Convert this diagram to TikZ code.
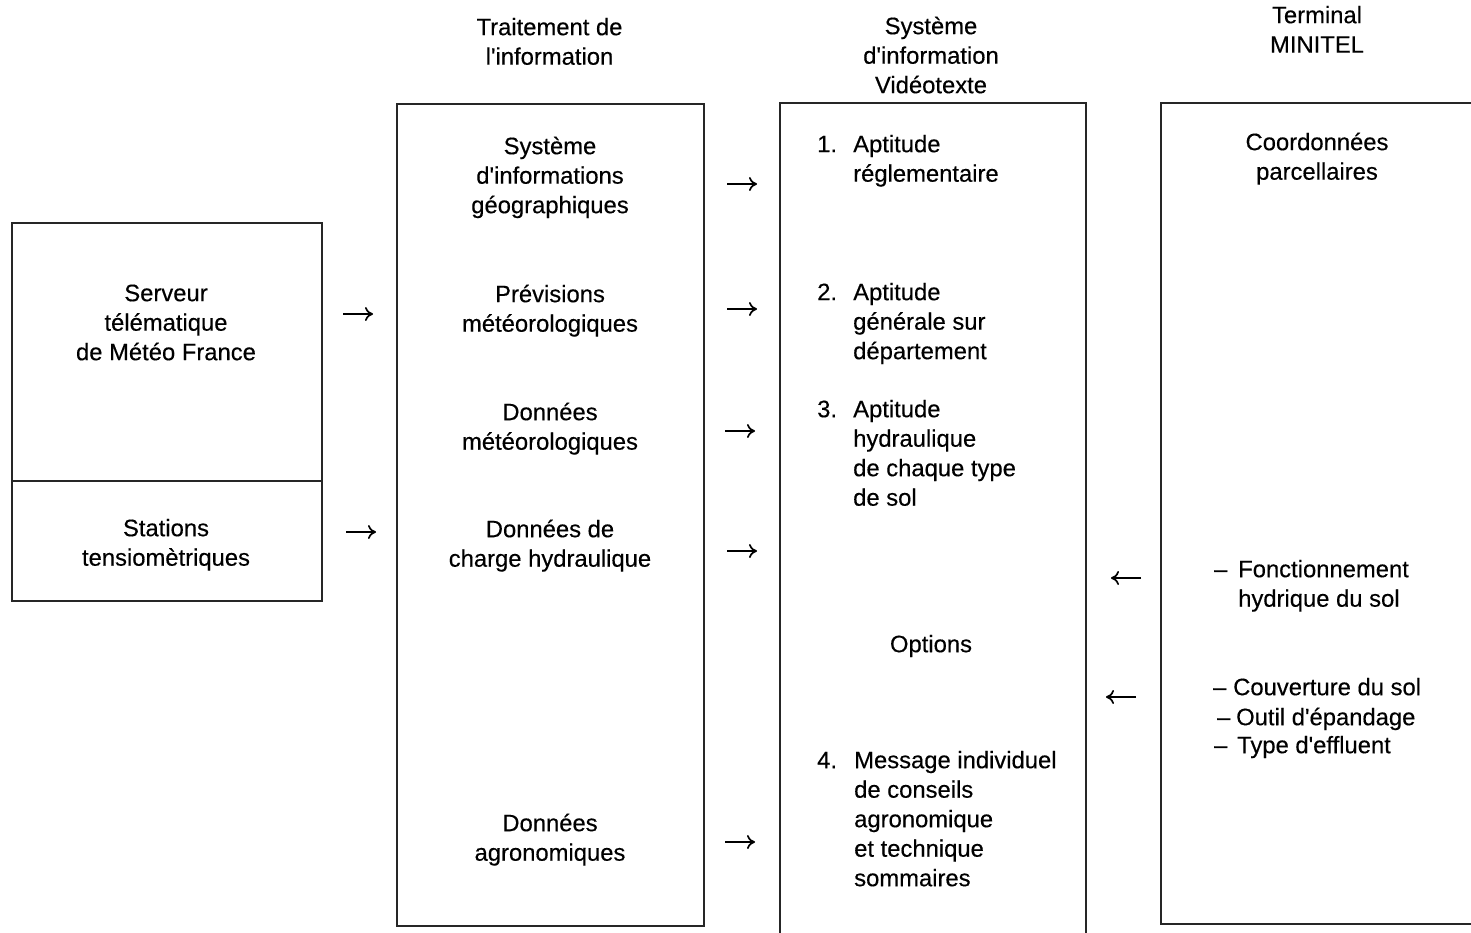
\documentclass[tikz,border=0pt]{standalone}
\usepackage{fontspec}
\newfontfamily\diagfamily{Liberation Sans}[FakeBold=0.35]
\usetikzlibrary{arrows.meta}
\newcommand\diagfont{\diagfamily\fontsize{23.8}{29.5}\selectfont}
\begin{document}
\begin{tikzpicture}[x=1pt,y=-1pt,
  frame/.style={line width=1.7pt, draw=black!85},
  txt/.style={inner sep=0pt, anchor=north, yshift=20.65pt, align=center,
              font=\diagfont},
  ltxt/.style={txt, anchor=north west, align=left},
  flow/.style={line width=1.7pt, -{To[length=8pt,width=14pt]}},
]
\useasboundingbox (0,0) rectangle (1471,932);
\clip (0,0) rectangle (1471,932);

% frames
\draw[frame] (12,223) rectangle (322,601);
\draw[frame] (12,481) -- (322,481);
\draw[frame] (397,104) rectangle (704,926);
\draw[frame] (780,950) -- (780,103) -- (1086,103) -- (1086,950);
\draw[frame] (1490,103) -- (1161,103) -- (1161,924) -- (1490,924);

% column headings
\node[txt] (h2) at (549.5,35) {\strut Traitement de\\l'information};
\node[txt] (h3) at (931,34) {\strut Système\\d'information\\Vidéotexte};
\node[txt] (h4) at (1317,23) {\strut Terminal\\MINITEL};

% sources
\node[txt] (srv) at (166,301) {\strut Serveur\\télématique\\de Météo France};
\node[txt] (sta) at (166,536) {\strut Stations\\tensiomètriques};

% processing
\node[txt] (sig)  at (550,154) {\strut Système\\d'informations\\géographiques};
\node[txt] (prev) at (550,302) {\strut Prévisions\\météorologiques};
\node[txt] (dmet) at (550,420) {\strut Données\\météorologiques};
\node[txt] (dch)  at (550,537) {\strut Données de\\charge hydraulique};
\node[txt] (dagr) at (550,831) {\strut Données\\agronomiques};

% videotex information system
\node[ltxt] (n1) at (817,152) {\strut 1.};
\node[ltxt] (a1) at (853,152) {\strut Aptitude\\réglementaire};
\node[ltxt] (n2) at (817,300) {\strut 2.};
\node[ltxt] (a2) at (853,300) {\strut Aptitude\\générale sur\\département};
\node[ltxt] (n3) at (817,417) {\strut 3.};
\node[ltxt] (a3) at (853,417) {\strut Aptitude\\hydraulique\\de chaque type\\de sol};
\node[txt]  (opt) at (931,652) {\strut Options};
\node[ltxt] (n4) at (817,768) {\strut 4.};
\node[ltxt] (a4) at (854,768) {\strut Message individuel\\de conseils\\agronomique\\et technique\\sommaires};

% terminal
\node[txt]  (coord) at (1317,150) {\strut Coordonnées\\parcellaires};
\node[ltxt] (fonc) at (1214,577) {\strut\makebox[24pt][l]{–}Fonctionnement\\\hspace*{24pt}hydrique du sol};
\node[ltxt] (couv) at (1213,695) {\strut\makebox[20pt][l]{–}Couverture du sol};
\node[ltxt] (outil) at (1217,725) {\strut\makebox[19pt][l]{–}Outil d'épandage};
\node[ltxt] (type) at (1214,753) {\strut\makebox[23pt][l]{–}Type d'effluent};

% arrow ends
\coordinate (s1a) at (343,314);  \coordinate (s1b) at (373,314);
\coordinate (s2a) at (346,532);  \coordinate (s2b) at (376,532);
\coordinate (p1a) at (727,184);  \coordinate (p1b) at (757,184);
\coordinate (p2a) at (727,309);  \coordinate (p2b) at (757,309);
\coordinate (p3a) at (725,431);  \coordinate (p3b) at (755,431);
\coordinate (p4a) at (727,551);  \coordinate (p4b) at (757,551);
\coordinate (p5a) at (725,842);  \coordinate (p5b) at (755,842);
\coordinate (t1a) at (1141,578); \coordinate (t1b) at (1111,578);
\coordinate (t2a) at (1136,697); \coordinate (t2b) at (1106,697);

\foreach \a/\b in {s1a/s1b, s2a/s2b, p1a/p1b, p2a/p2b, p3a/p3b, p4a/p4b,
                   p5a/p5b, t1a/t1b, t2a/t2b}
  \draw[flow] (\a) -- (\b);
\end{tikzpicture}
\end{document}
